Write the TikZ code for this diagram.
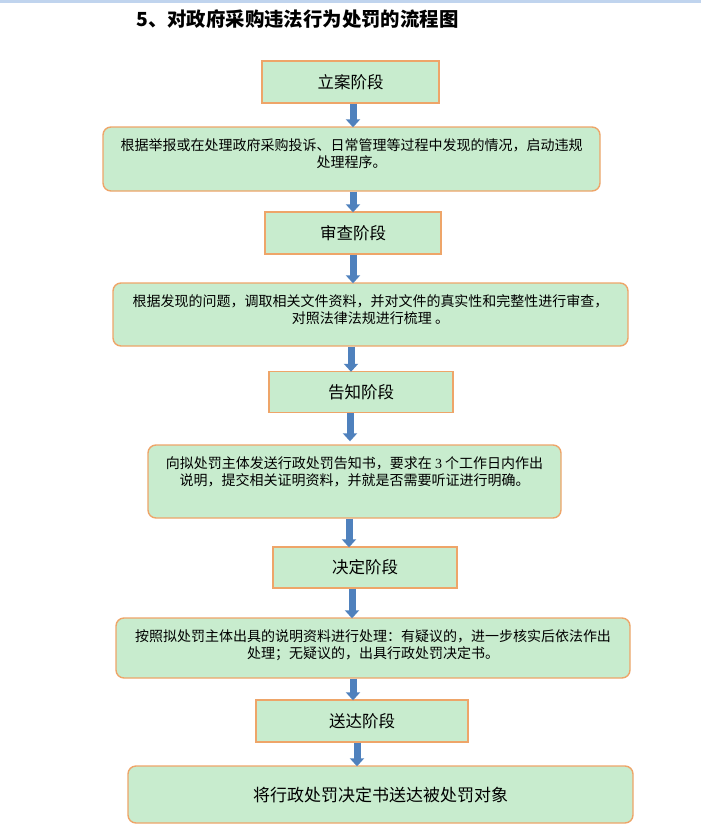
\documentclass[tikz,border=0pt]{standalone}
\usepackage{fontspec}
\setmainfont{Liberation Serif}
\newfontfamily\cjk{Noto Sans CJK SC}
\usetikzlibrary{arrows.meta}
\definecolor{boxfill}{RGB}{200,236,206}
\definecolor{boxline}{RGB}{238,165,105}
\definecolor{arrowblue}{RGB}{79,129,189}
\definecolor{topstrip}{RGB}{192,212,238}
\newcommand{\boxtext}[3]{\parbox[c][#1][t]{#2}{\centering\vspace*{11.5pt}#3}}
\newcommand{\lnst}{\rule{0pt}{12pt}}
\tikzset{
  stagebox/.style={draw=boxline, fill=boxfill, line width=1.4pt, inner sep=0pt,
    font=\cjk\fontsize{16.5pt}{20pt}\selectfont},
  roundbox/.style={draw=boxline, fill=boxfill, line width=1.4pt, inner sep=0pt,
    rounded corners=8pt, font=\cjk\fontsize{14pt}{16.5pt}\selectfont},
  flowarrow/.style={draw=arrowblue, line width=7pt, -{Triangle[width=14pt,length=8pt]}},
  titletext/.style={anchor=west, inner sep=0pt, font=\cjk\bfseries\fontsize{19.4pt}{22pt}\selectfont}
}
\begin{document}
\begin{tikzpicture}[x=1pt,y=-1pt]
\useasboundingbox (0,0) rectangle (701,833);
\fill[topstrip] (0,0) rectangle (701,2.5);
\node[titletext] (title) at (136,19) {5、对政府采购违法行为处罚的流程图};

\node[stagebox, minimum width=177pt, minimum height=42pt] (s1) at (350.5,82) {立案阶段};
\node[roundbox, minimum width=497pt, minimum height=64pt] (b1) at (351.5,159)
  {\boxtext{64pt}{497pt}{\lnst 根据举报或在处理政府采购投诉、日常管理等过程中发现的情况，启动违规\\\lnst 处理程序。}};
\node[stagebox, minimum width=176pt, minimum height=42pt] (s2) at (353,233) {审查阶段};
\node[roundbox, minimum width=515pt, minimum height=63pt] (b2) at (370.5,314.5)
  {\boxtext{63pt}{515pt}{\lnst 根据发现的问题，调取相关文件资料，并对文件的真实性和完整性进行审查，\\\lnst 对照法律法规进行梳理 。}};
\node[stagebox, minimum width=184pt, minimum height=41pt] (s3) at (361,392) {告知阶段};
\node[roundbox, minimum width=413pt, minimum height=73pt] (b3) at (354.5,481.5)
  {\boxtext{73pt}{413pt}{\lnst 向拟处罚主体发送行政处罚告知书，要求在 {\rmfamily 3} 个工作日内作出\\\lnst 说明，提交相关证明资料，并就是否需要听证进行明确。}};
\node[stagebox, minimum width=184pt, minimum height=41pt] (s4) at (365,567.5) {决定阶段};
\node[roundbox, minimum width=514pt, minimum height=60pt] (b4) at (373,648)
  {\boxtext{60pt}{514pt}{\lnst 按照拟处罚主体出具的说明资料进行处理：有疑议的，进一步核实后依法作出\\\lnst 处理；无疑议的，出具行政处罚决定书。}};
\node[stagebox, minimum width=212pt, minimum height=42pt] (s5) at (362,721) {送达阶段};
\node[roundbox, minimum width=505pt, minimum height=57pt, font=\cjk\fontsize{17pt}{20pt}\selectfont] (b5) at (380.5,794.5)
  {将行政处罚决定书送达被处罚对象};

\draw[flowarrow] ([xshift=2.5pt]s1.south) -- ([xshift=2.5pt,yshift=-1pt]s1.south |- b1.north);
\draw[flowarrow] ([xshift=1.5pt]b1.south) -- ([xshift=1.5pt,yshift=-1pt]b1.south |- s2.north);
\draw[flowarrow] ([xshift=0pt]s2.south) -- ([xshift=0pt,yshift=-1pt]s2.south |- b2.north);
\draw[flowarrow] ([xshift=-19.5pt]b2.south) -- ([xshift=-19.5pt,yshift=-1pt]b2.south |- s3.north);
\draw[flowarrow] ([xshift=-11pt]s3.south) -- ([xshift=-11pt,yshift=3pt]s3.south |- b3.north);
\draw[flowarrow] ([xshift=-5.5pt]b3.south) -- ([xshift=-5.5pt,yshift=-1pt]b3.south |- s4.north);
\draw[flowarrow] ([xshift=-13pt]s4.south) -- ([xshift=-13pt,yshift=-1pt]s4.south |- b4.north);
\draw[flowarrow] ([xshift=-20pt]b4.south) -- ([xshift=-20pt,yshift=-1pt]b4.south |- s5.north);
\draw[flowarrow] ([xshift=-5pt]s5.south) -- ([xshift=-5pt,yshift=-1pt]s5.south |- b5.north);
\end{tikzpicture}
\end{document}
